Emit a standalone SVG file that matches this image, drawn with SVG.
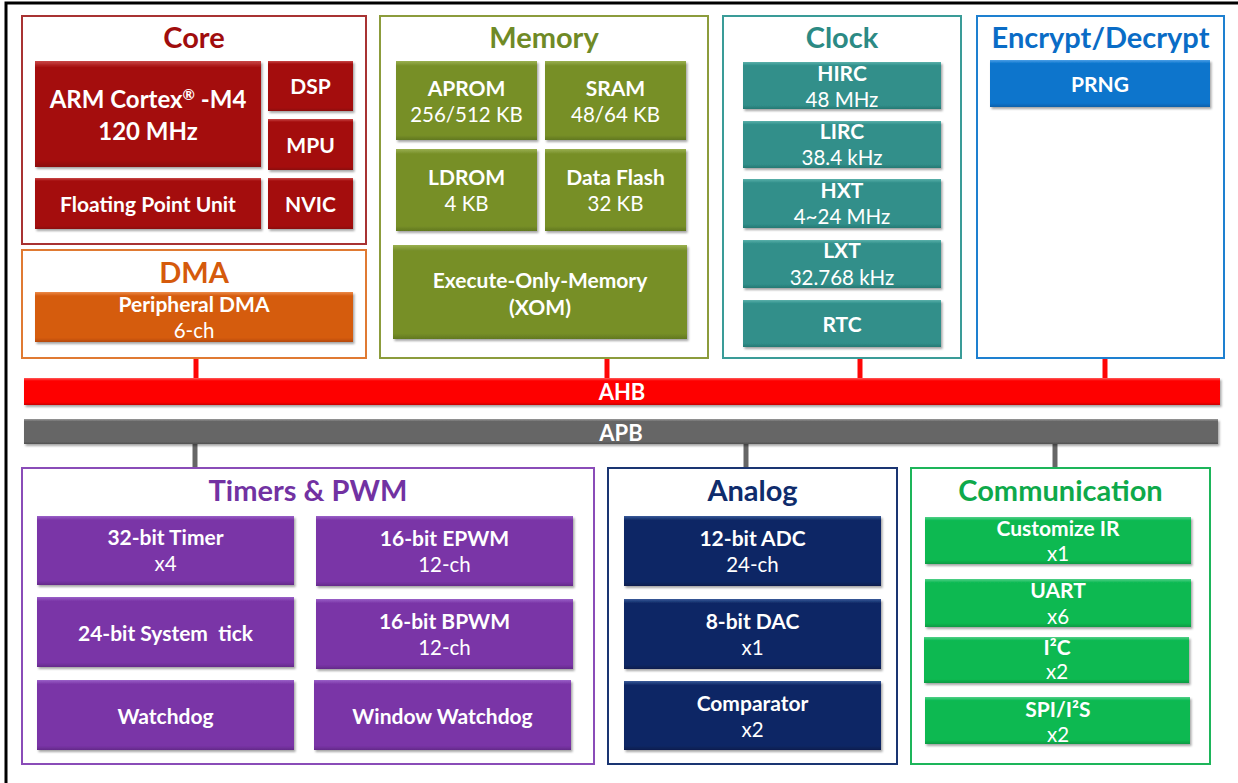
<svg xmlns="http://www.w3.org/2000/svg" width="1238" height="783" viewBox="0 0 1238 783">
<defs>
<filter id="sh" x="-5%" y="-10%" width="115%" height="130%">
<feDropShadow dx="1.5" dy="2" stdDeviation="1.2" flood-color="#000" flood-opacity="0.35"/>
</filter>
<linearGradient id="gRed" x1="0" y1="0" x2="0" y2="1"><stop offset="0" stop-color="#c84848"/><stop offset="0.06" stop-color="#a40b0b"/><stop offset="0.94" stop-color="#a40b0b"/><stop offset="1" stop-color="#8a0808"/></linearGradient>
<linearGradient id="gOra" x1="0" y1="0" x2="0" y2="1"><stop offset="0" stop-color="#ec8a4a"/><stop offset="0.08" stop-color="#d55b0b"/><stop offset="0.92" stop-color="#d55b0b"/><stop offset="1" stop-color="#b54a08"/></linearGradient>
<linearGradient id="gOli" x1="0" y1="0" x2="0" y2="1"><stop offset="0" stop-color="#9ab050"/><stop offset="0.06" stop-color="#778f28"/><stop offset="0.94" stop-color="#778f28"/><stop offset="1" stop-color="#62781f"/></linearGradient>
<linearGradient id="gTeal" x1="0" y1="0" x2="0" y2="1"><stop offset="0" stop-color="#5ab0aa"/><stop offset="0.08" stop-color="#308f8a"/><stop offset="0.92" stop-color="#308f8a"/><stop offset="1" stop-color="#267873"/></linearGradient>
<linearGradient id="gBlue" x1="0" y1="0" x2="0" y2="1"><stop offset="0" stop-color="#4a9ee6"/><stop offset="0.08" stop-color="#0a74cc"/><stop offset="0.92" stop-color="#0a74cc"/><stop offset="1" stop-color="#0860aa"/></linearGradient>
<linearGradient id="gAhb" x1="0" y1="0" x2="0" y2="1"><stop offset="0" stop-color="#ff5a5a"/><stop offset="0.1" stop-color="#fe0606"/><stop offset="0.9" stop-color="#fe0606"/><stop offset="1" stop-color="#c80000"/></linearGradient>
<linearGradient id="gApb" x1="0" y1="0" x2="0" y2="1"><stop offset="0" stop-color="#9a9a9a"/><stop offset="0.1" stop-color="#666666"/><stop offset="0.9" stop-color="#666666"/><stop offset="1" stop-color="#505050"/></linearGradient>
<linearGradient id="gPur" x1="0" y1="0" x2="0" y2="1"><stop offset="0" stop-color="#9a60c8"/><stop offset="0.06" stop-color="#7a34a7"/><stop offset="0.94" stop-color="#7a34a7"/><stop offset="1" stop-color="#642a8a"/></linearGradient>
<linearGradient id="gNavy" x1="0" y1="0" x2="0" y2="1"><stop offset="0" stop-color="#3a5a9a"/><stop offset="0.06" stop-color="#0b2765"/><stop offset="0.94" stop-color="#0b2765"/><stop offset="1" stop-color="#081d4e"/></linearGradient>
<linearGradient id="gGrn" x1="0" y1="0" x2="0" y2="1"><stop offset="0" stop-color="#50d088"/><stop offset="0.08" stop-color="#0bb951"/><stop offset="0.92" stop-color="#0bb951"/><stop offset="1" stop-color="#089a42"/></linearGradient>
</defs>
<style>
.frame{fill:#fff;stroke-width:2}
.blk{filter:url(#sh)}
.ttl{font-family:Lato,"Liberation Sans",sans-serif;font-weight:bold;font-size:29px;text-anchor:middle}
.lb{font-family:Lato,"Liberation Sans",sans-serif;font-weight:bold;font-size:21px;fill:#fff;text-anchor:middle}
.bus{font-family:Lato,"Liberation Sans",sans-serif;font-weight:bold;font-size:22px;fill:#fff;text-anchor:middle}
.sl{font-family:Lato,"Liberation Sans",sans-serif;font-size:20.5px;fill:#fff;text-anchor:middle}
.big{font-family:Lato,"Liberation Sans",sans-serif;font-weight:bold;font-size:24px;fill:#fff;text-anchor:middle}
.red{fill:url(#gRed)}.ora{fill:url(#gOra)}.oli{fill:url(#gOli)}.teal{fill:url(#gTeal)}.blue{fill:url(#gBlue)}
.pur{fill:url(#gPur)}.navy{fill:url(#gNavy)}.grn{fill:url(#gGrn)}
.ahbc{stroke:#fe0606;stroke-width:5}
.apbc{stroke:#666;stroke-width:5}
</style>
<rect width="1238" height="783" fill="#fff"/>
<path d="M6,783 V3 H1238" fill="none" stroke="#000" stroke-width="3"/>

<g id="connectors">
<line class="ahbc" x1="196" y1="358" x2="196" y2="379"/>
<line class="ahbc" x1="607" y1="358" x2="607" y2="379"/>
<line class="ahbc" x1="860" y1="358" x2="860" y2="379"/>
<line class="ahbc" x1="1105" y1="358" x2="1105" y2="379"/>
<line class="apbc" x1="195" y1="443" x2="195" y2="468"/>
<line class="apbc" x1="746" y1="443" x2="746" y2="468"/>
<line class="apbc" x1="1055" y1="443" x2="1055" y2="468"/>
</g>

<g id="core">
<rect class="frame" x="22" y="16" width="344" height="228" stroke="#a83232"/>
<text class="ttl" x="194" y="48" fill="#a00d0d">Core</text>
<g id="arm"><rect class="blk red" x="35" y="61" width="226" height="106"/><text class="big" x="148" y="107.5">ARM Cortex<tspan font-size="15" dy="-8">®</tspan><tspan dy="8"> -M4</tspan></text><text class="big" x="148" y="139.5">120 MHz</text></g>
<g id="dsp"><rect class="blk red" x="268" y="61" width="85" height="50"/><text class="lb" x="310.5" y="93.5">DSP</text></g>
<g id="mpu"><rect class="blk red" x="268" y="119" width="85" height="51"/><text class="lb" x="310.5" y="152.5">MPU</text></g>
<g id="nvic"><rect class="blk red" x="268" y="178" width="85" height="51"/><text class="lb" x="310.5" y="211.5">NVIC</text></g>
<g id="fpu"><rect class="blk red" x="35" y="178" width="226" height="51"/><text class="lb" x="148" y="211.5">Floating Point Unit</text></g>
</g>

<g id="dma">
<rect class="frame" x="22" y="250" width="344" height="108" stroke="#e07a32"/>
<text class="ttl" x="194" y="283" fill="#d55a0c">DMA</text>
<g id="pdma"><rect class="blk ora" x="35" y="292" width="318" height="50"/><text class="lb" x="194" y="311.5">Peripheral DMA</text><text class="sl" x="194" y="338">6-ch</text></g>
</g>

<g id="memory">
<rect class="frame" x="380" y="16" width="328" height="342" stroke="#8c9c3c"/>
<text class="ttl" x="544" y="48" fill="#6f8a26">Memory</text>
<g id="aprom"><rect class="blk oli" x="396" y="61" width="141" height="79"/><text class="lb" x="466.5" y="95.5">APROM</text><text class="sl" x="466.5" y="122">256/512 KB</text></g>
<g id="sram"><rect class="blk oli" x="545" y="61" width="141" height="79"/><text class="lb" x="615.5" y="95.5">SRAM</text><text class="sl" x="615.5" y="122">48/64 KB</text></g>
<g id="ldrom"><rect class="blk oli" x="396" y="149" width="141" height="82"/><text class="lb" x="466.5" y="184.5">LDROM</text><text class="sl" x="466.5" y="211">4 KB</text></g>
<g id="dataflash"><rect class="blk oli" x="545" y="149" width="141" height="82"/><text class="lb" x="615.5" y="184.5">Data Flash</text><text class="sl" x="615.5" y="211">32 KB</text></g>
<g id="xom"><rect class="blk oli" x="393" y="245" width="294" height="94"/><text class="lb" x="540" y="287.5">Execute-Only-Memory</text><text class="lb" x="540" y="314.5">(XOM)</text></g>
</g>

<g id="clock">
<rect class="frame" x="723" y="16" width="238" height="342" stroke="#3a9c98"/>
<text class="ttl" x="842" y="48" fill="#2c8a84">Clock</text>
<g id="hirc"><rect class="blk teal" x="743" y="62" width="198" height="47"/><text class="lb" x="842" y="80.5">HIRC</text><text class="sl" x="842" y="107">48 MHz</text></g>
<g id="lirc"><rect class="blk teal" x="743" y="121" width="198" height="47"/><text class="lb" x="842" y="138.5">LIRC</text><text class="sl" x="842" y="165">38.4 kHz</text></g>
<g id="hxt"><rect class="blk teal" x="743" y="179" width="198" height="49"/><text class="lb" x="842" y="197.5">HXT</text><text class="sl" x="842" y="224">4~24 MHz</text></g>
<g id="lxt"><rect class="blk teal" x="743" y="240" width="198" height="48"/><text class="lb" x="842" y="257.5">LXT</text><text class="sl" x="842" y="285">32.768 kHz</text></g>
<g id="rtc"><rect class="blk teal" x="743" y="300" width="198" height="47"/><text class="lb" x="842" y="331.5">RTC</text></g>
</g>

<g id="encrypt">
<rect class="frame" x="977" y="16" width="247" height="342" stroke="#1e80d0"/>
<text class="ttl" x="1100.5" y="48" fill="#0a6cc6">Encrypt/Decrypt</text>
<g id="prng"><rect class="blk blue" x="990" y="60" width="220" height="47"/><text class="lb" x="1100" y="91.5">PRNG</text></g>
</g>

<g id="ahb"><rect class="blk" x="24" y="378" width="1196" height="27" fill="url(#gAhb)"/><text class="bus" x="622" y="400">AHB</text></g>
<g id="apb"><rect class="blk" x="24" y="419" width="1194" height="25" fill="url(#gApb)"/><text class="bus" x="621" y="440.5">APB</text></g>

<g id="timers">
<rect class="frame" x="22" y="468" width="572" height="296" stroke="#8a4cb8"/>
<text class="ttl" x="308" y="501" fill="#7232a2">Timers &amp; PWM</text>
<g id="t32"><rect class="blk pur" x="37" y="516" width="257" height="69"/><text class="lb" x="165.5" y="544.5">32-bit Timer</text><text class="sl" x="165.5" y="571">x4</text></g>
<g id="epwm"><rect class="blk pur" x="316" y="516" width="257" height="70"/><text class="lb" x="444.5" y="545.5">16-bit EPWM</text><text class="sl" x="444.5" y="572">12-ch</text></g>
<g id="systick"><rect class="blk pur" x="37" y="597" width="257" height="70"/><text class="lb" x="165.5" y="640.5">24-bit System&#160; tick</text></g>
<g id="bpwm"><rect class="blk pur" x="316" y="599" width="257" height="70"/><text class="lb" x="444.5" y="628.5">16-bit BPWM</text><text class="sl" x="444.5" y="655">12-ch</text></g>
<g id="wdt"><rect class="blk pur" x="37" y="680" width="257" height="70"/><text class="lb" x="165.5" y="723.5">Watchdog</text></g>
<g id="wwdt"><rect class="blk pur" x="314" y="680" width="257" height="70"/><text class="lb" x="442.5" y="723.5">Window Watchdog</text></g>
</g>

<g id="analog">
<rect class="frame" x="608" y="468" width="289" height="296" stroke="#1a3572"/>
<text class="ttl" x="752.5" y="501" fill="#0f2c6c">Analog</text>
<g id="adc"><rect class="blk navy" x="624" y="516" width="257" height="70"/><text class="lb" x="752.5" y="545.5">12-bit ADC</text><text class="sl" x="752.5" y="572">24-ch</text></g>
<g id="dac"><rect class="blk navy" x="624" y="599" width="257" height="70"/><text class="lb" x="752.5" y="628.5">8-bit DAC</text><text class="sl" x="752.5" y="655">x1</text></g>
<g id="cmp"><rect class="blk navy" x="624" y="681" width="257" height="69"/><text class="lb" x="752.5" y="710.5">Comparator</text><text class="sl" x="752.5" y="737">x2</text></g>
</g>

<g id="communication">
<rect class="frame" x="911" y="468" width="299" height="296" stroke="#1db55a"/>
<text class="ttl" x="1060.5" y="501" fill="#0ea94a">Communication</text>
<g id="cir"><rect class="blk grn" x="925" y="517" width="266" height="47"/><text class="lb" x="1058" y="535.5">Customize IR</text><text class="sl" x="1058" y="561">x1</text></g>
<g id="uart"><rect class="blk grn" x="925" y="579" width="266" height="48"/><text class="lb" x="1058" y="597.5">UART</text><text class="sl" x="1058" y="624">x6</text></g>
<g id="i2c"><rect class="blk grn" x="924" y="637" width="265" height="46"/><text class="lb" x="1057" y="654.5">I²C</text><text class="sl" x="1057" y="679">x2</text></g>
<g id="spi"><rect class="blk grn" x="925" y="697" width="265" height="47"/><text class="lb" x="1058" y="716.5">SPI/I²S</text><text class="sl" x="1058" y="742">x2</text></g>
</g>
</svg>
